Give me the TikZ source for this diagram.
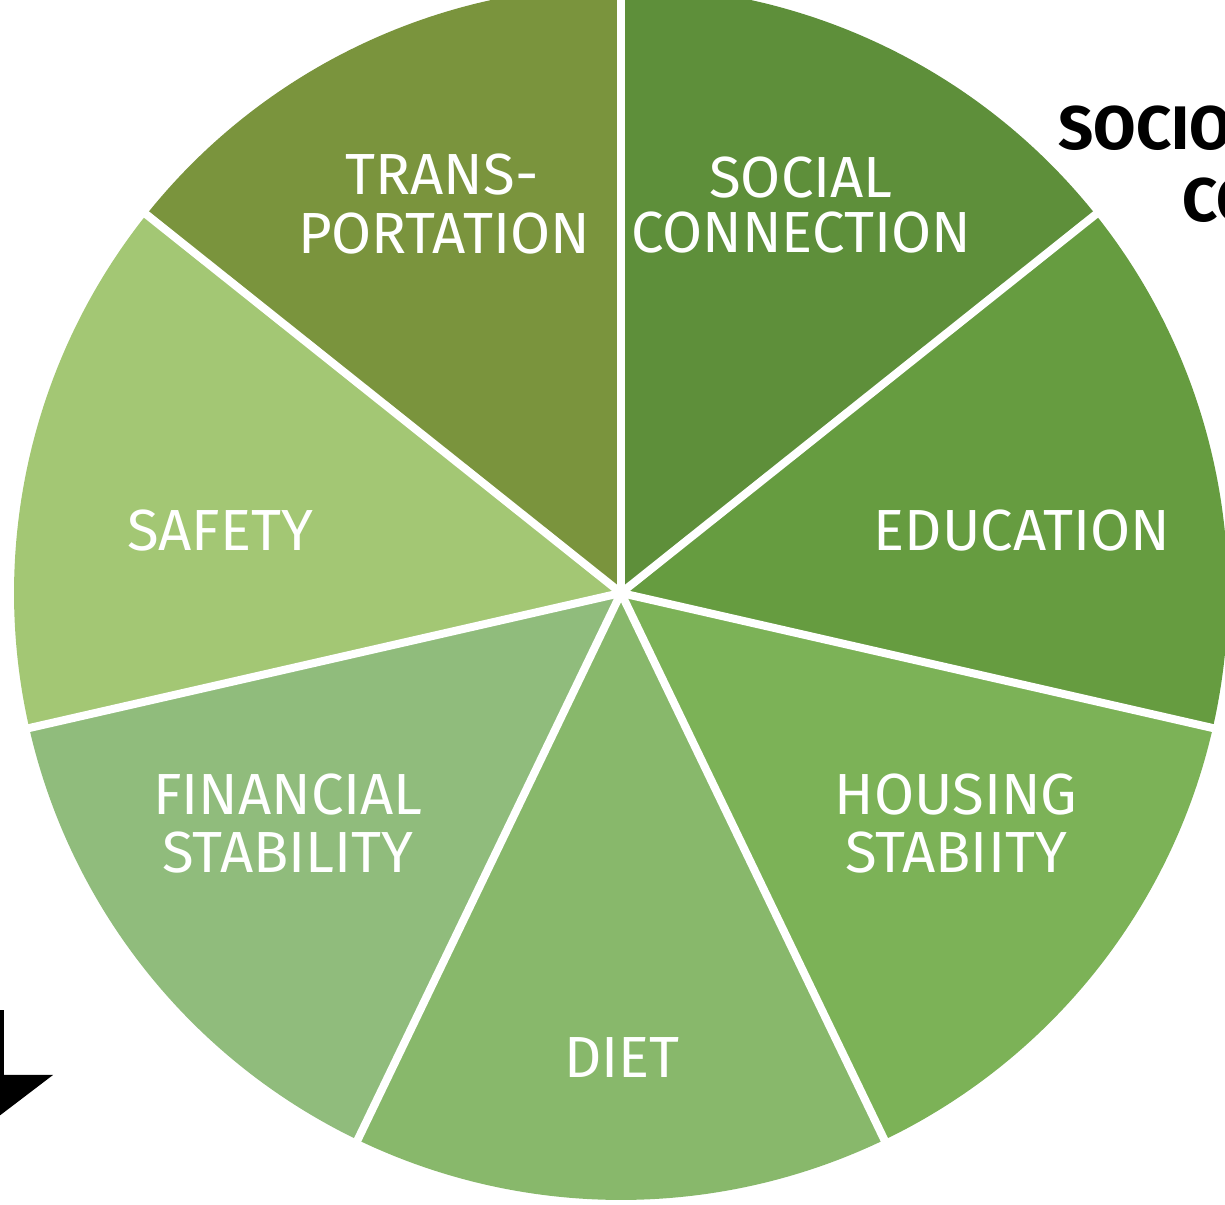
\documentclass[tikz,border=0pt]{standalone}
\usepackage{fontspec}
\setmainfont{Fira Sans}
\definecolor{cTrans}{HTML}{7A943D}
\definecolor{cSocial}{HTML}{5E8F3A}
\definecolor{cEdu}{HTML}{669C40}
\definecolor{cHouse}{HTML}{7CB257}
\definecolor{cDiet}{HTML}{88B86B}
\definecolor{cFin}{HTML}{90BC7C}
\definecolor{cSafe}{HTML}{A3C774}
\tikzset{
  lab/.style={text=white, inner sep=0pt, font=\fontsize{16.5}{18}\selectfont},
  head/.style={text=black, inner sep=0pt, anchor=base west, font=\fontsize{17.5}{20}\bfseries\selectfont},
  sep/.style={white, line width=0.08cm},
}
\begin{document}
\begin{tikzpicture}
\useasboundingbox (0,0) rectangle (12.25,12.05);
\coordinate (C) at (6.21,6.12);
\def\R{6.07}
\foreach \a/\b/\c in {90/38.571/cSocial, 38.571/-12.857/cEdu, -12.857/-64.286/cHouse, -64.286/-115.714/cDiet, -115.714/-167.143/cFin, -167.143/-218.571/cSafe, 141.429/90/cTrans}{
  \fill[\c] (C) -- ++(\a:\R) arc[start angle=\a, end angle=\b, radius=\R] -- cycle;
}
\foreach \a in {90,38.571,-12.857,-64.286,-115.714,-167.143,141.429}{
  \draw[sep] (C) -- ++(\a:6.3);
}
\node[lab] (t1) at (4.42,10.30) {TRANS-};
\node[lab] (t2) at (4.44,9.71) {PORTATION};
\node[lab] (s1) at (8.01,10.27) {SOCIAL};
\node[lab] (s2) at (8.01,9.72) {CONNECTION};
\node[lab] (ed) at (10.22,6.74) {EDUCATION};
\node[lab] (sa) at (2.20,6.74) {SAFETY};
\node[lab] (h1) at (9.56,4.10) {HOUSING};
\node[lab] (h2) at (9.56,3.52) {STABIITY};
\node[lab] (f1) at (2.88,4.10) {FINANCIAL};
\node[lab] (f2) at (2.88,3.52) {STABILITY};
\node[lab] (di) at (6.22,1.47) {DIET};
\node[head] (so) at (10.58,10.55) {SOCIO};
\node[head] (co) at (11.82,9.83) {CO};
\fill[black] (-0.1,1.95) rectangle (0.04,1.30);
\fill[black] (-0.1,1.30) -- (0.53,1.30) -- (-0.1,0.82) -- cycle;
\end{tikzpicture}
\end{document}
